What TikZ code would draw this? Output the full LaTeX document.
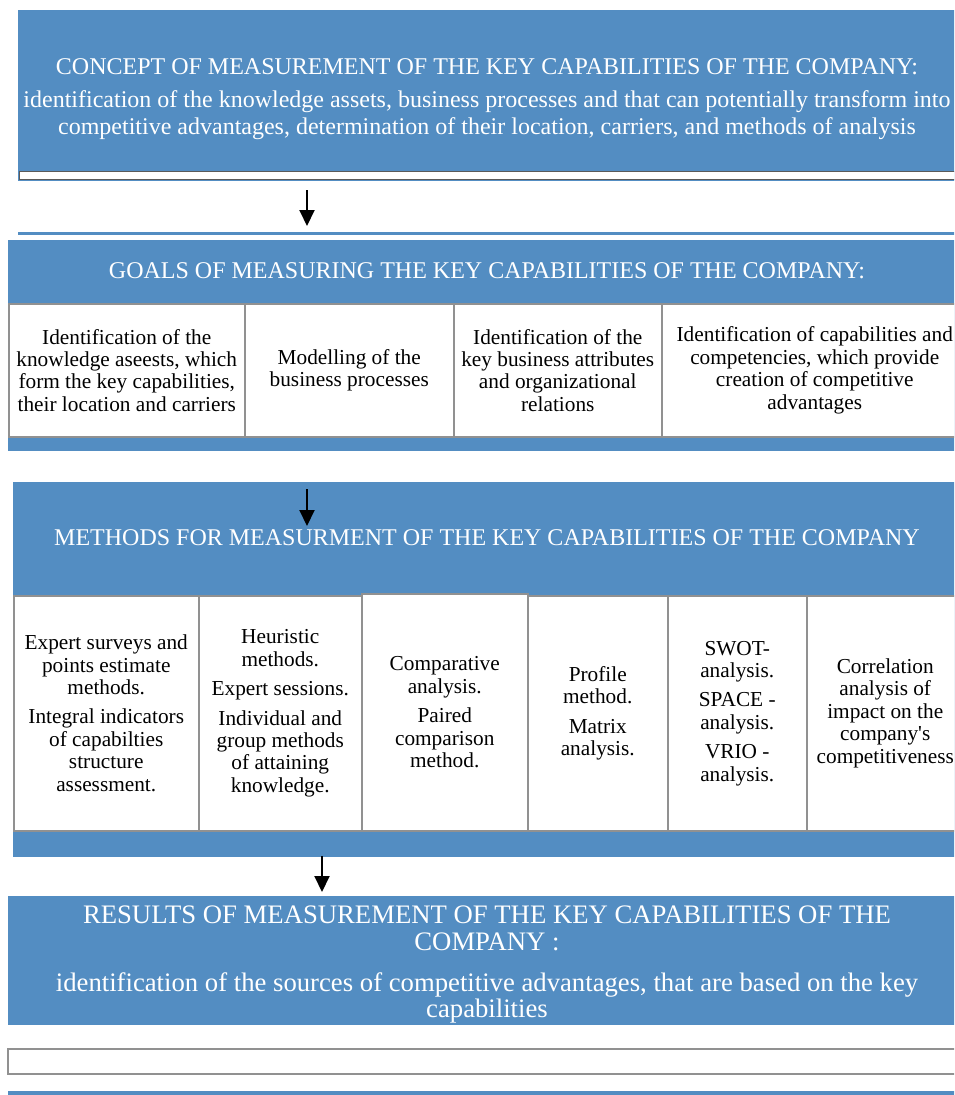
\documentclass[tikz,border=0pt]{standalone}
\usepackage{fontspec}
\setmainfont{Liberation Serif}
\usetikzlibrary{arrows.meta}
\definecolor{cblue}{RGB}{83,141,194}
\definecolor{cellline}{RGB}{145,145,145}
\definecolor{stripline}{RGB}{90,90,90}
\newcommand\bigfont{\fontsize{24}{25.5}\selectfont}
\newcommand\topfont{\fontsize{24}{26.5}\selectfont}
\newcommand\resfont{\fontsize{26.7}{27}\selectfont}
\newcommand\cellfont{\fontsize{21.3}{22.4}\selectfont}
\begin{document}
\begin{tikzpicture}[x=1pt,y=-1pt,
  bluebox/.style={fill=cblue,draw=none,inner sep=0pt,anchor=north west},
  bluetext/.style={text=white,align=center,font=\bigfont,inner sep=0pt},
  cellbox/.style={fill=white,draw=cellline,line width=1.5pt,inner sep=0pt,anchor=north west,align=center,font=\cellfont},
  bar/.style={fill=cblue,draw=none,inner sep=0pt,anchor=north west},
  arr/.style={-{Triangle[length=16pt,width=15pt]},line width=2pt,black}]
\clip (0,0) rectangle (954,1095);
\fill[white] (0,0) rectangle (954,1095);
% concept box
\node[bluebox,minimum width=938pt,minimum height=171pt] (top) at (18,10) {};
\node[bluetext,font=\topfont] (toptext) at (487,99)
  {CONCEPT OF MEASUREMENT OF THE KEY CAPABILITIES OF THE COMPANY:\\[7pt]
   identification of the knowledge assets, business processes and that can potentially transform into\\
   competitive advantages, determination of their location, carriers, and methods of analysis};
\node[fill=white,draw=stripline,line width=1pt,inner sep=0pt,anchor=north west,minimum width=950pt,minimum height=8pt] (topstrip) at (19,171) {};
\node[bar,minimum width=950pt,minimum height=3pt] (sep1) at (18,232) {};
\coordinate (a1s) at (307,190);
\coordinate (a1e) at (307,226);
\draw[arr] (a1s) -- (a1e);
% goals
\node[bluebox,minimum width=958pt,minimum height=211pt] (goals) at (8,240) {};
\node[bluetext] (goalstitle) at (487,271) {GOALS OF MEASURING THE KEY CAPABILITIES OF THE COMPANY:};
\node[cellbox,minimum width=236pt,minimum height=133pt] (g1) at (8,303)
  {Identification of the\\ knowledge aseests, which\\ form the key capabilities,\\ their location and carriers};
\node[cellbox,minimum width=209pt,minimum height=133pt] (g2) at (244,303)
  {Modelling of the\\ business processes};
\node[cellbox,minimum width=208pt,minimum height=133pt] (g3) at (453,303)
  {Identification of the\\ key business attributes\\ and organizational\\ relations};
\node[cellbox,minimum width=306pt,minimum height=133pt] (g4) at (661,303)
  {Identification of capabilities and\\ competencies, which provide\\ creation of competitive\\ advantages};
% methods
\node[bluebox,minimum width=953pt,minimum height=375pt] (methods) at (13,482) {};
\node[bluetext] (methodstitle) at (487,538) {METHODS FOR MEASURMENT OF THE KEY CAPABILITIES OF THE COMPANY};
\coordinate (a2s) at (307,489);
\coordinate (a2e) at (307,526);
\draw[arr] (a2s) -- (a2e);
\node[cellbox,minimum width=185pt,minimum height=235pt] (m1) at (13,595)
  {Expert surveys and\\ points estimate\\ methods.\\[7pt] Integral indicators\\ of capabilties\\ structure\\ assessment.};
\node[cellbox,minimum width=163pt,minimum height=235pt] (m2) at (198,595)
  {Heuristic\\ methods.\\[7pt] Expert sessions.\\[7pt] Individual and\\ group methods\\ of attaining\\ knowledge.};
\node[cellbox,minimum width=166pt,minimum height=237pt] (m3) at (361,593)
  {Comparative\\ analysis.\\[7pt] Paired\\ comparison\\ method.};
\node[cellbox,minimum width=140pt,minimum height=235pt] (m4) at (527,595)
  {Profile\\ method.\\[7pt] Matrix\\ analysis.};
\node[cellbox,minimum width=139pt,minimum height=235pt] (m5) at (667,595)
  {SWOT-\\ analysis.\\[7pt] SPACE -\\ analysis.\\[7pt] VRIO -\\ analysis.};
\node[cellbox,minimum width=157pt,minimum height=235pt] (m6) at (806,595)
  {Correlation\\ analysis of\\ impact on the\\ company\textquotesingle s\\ competitiveness};
% results
\coordinate (a3s) at (322,856);
\coordinate (a3e) at (322,892);
\draw[arr] (a3s) -- (a3e);
\node[bluebox,minimum width=958pt,minimum height=129pt] (results) at (8,896) {};
\node[bluetext,font=\resfont] (resultstext) at (487,964.5)
  {RESULTS OF MEASUREMENT OF THE KEY CAPABILITIES OF THE\\ COMPANY :\\[14pt]
   identification of the sources of competitive advantages, that are based on the key\\[-1.5pt] capabilities};
\node[fill=white,draw=cellline,line width=1.5pt,inner sep=0pt,anchor=north west,minimum width=960pt,minimum height=25pt] (bottombox) at (7,1048) {};
\node[bar,minimum width=960pt,minimum height=5pt] (bottomline) at (8,1091) {};
\end{tikzpicture}
\end{document}
